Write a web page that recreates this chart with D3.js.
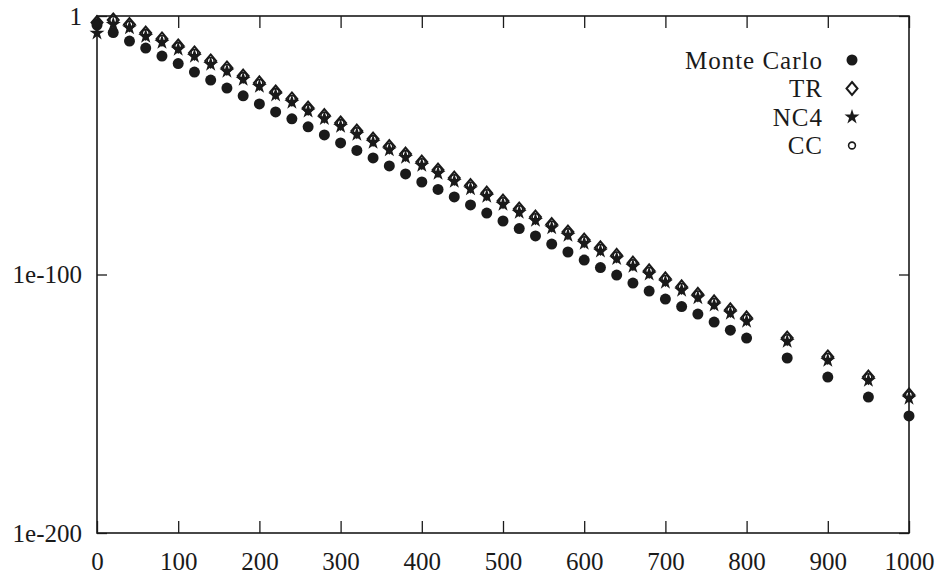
<!DOCTYPE html>
<html>
<head>
<meta charset="utf-8">
<script src="https://cdn.jsdelivr.net/npm/d3@7"></script>
<style>
  body { margin: 0; background: #fff; }
  text { font-family: "Liberation Serif", serif; fill: #1a1a1a; }
</style>
</head>
<body>
<div id="chart"></div>
<script>
// x positions of the samples
var xs = [0, 20, 40, 60, 80, 100, 120, 140, 160, 180, 200, 220, 240, 260, 280, 300,
  320, 340, 360, 380, 400, 420, 440, 460, 480, 500, 520, 540, 560, 580, 600, 620,
  640, 660, 680, 700, 720, 740, 760, 780, 800, 850, 900, 950, 1000];

var monteCarlo = [3.2e-4, 4e-7, 2e-10, 4e-13, 3.2e-16, 4e-19, 2e-22, 1.6e-25, 1.3e-28, 1.3e-31,
  1e-34, 8e-38, 1.6e-40, 1.3e-43, 1e-46, 8e-50, 1e-52, 1.3e-55, 1e-58, 8e-62,
  6e-65, 8e-68, 1e-70, 8e-74, 6e-77, 5e-80, 6e-83, 8e-86, 6e-89, 5e-92,
  4e-95, 5e-98, 6e-101, 5e-104, 4e-107, 3e-110, 4e-113, 5e-116, 4e-119, 3e-122,
  2.5e-125, 5e-133, 2e-140, 4e-148, 2e-155];

var tr = [3e-3, 3e-2, 5e-4, 2.5e-7, 1.3e-9, 2.5e-12, 5e-15, 4e-18, 8e-21, 6e-24,
  1.3e-26, 4e-30, 8e-33, 2.5e-36, 3e-39, 4e-42, 3e-45, 2.5e-48, 3e-51, 4e-54,
  3e-57, 2.5e-60, 2e-63, 2.5e-66, 3e-69, 2.5e-72, 2e-75, 1.6e-78, 2e-81, 2.5e-84,
  2e-87, 2e-90, 2.5e-93, 2.5e-96, 2.5e-99, 2e-102, 1.6e-105, 2e-108, 2.5e-111, 2e-114,
  1.6e-117, 2.5e-125, 1.3e-132, 2e-140, 2.5e-147];

var nc4 = [2.5e-7, 6e-4, 2.5e-5, 1.3e-8, 6e-11, 1.3e-13, 2.5e-16, 2e-19, 4e-22, 3e-25,
  6e-28, 2.5e-31, 4e-34, 1.6e-37, 2e-40, 2e-43, 1.6e-46, 1.3e-49, 1.6e-52, 2e-55,
  1.6e-58, 1.3e-61, 1e-64, 1.3e-67, 1.6e-70, 1.3e-73, 1e-76, 8e-80, 1e-82, 1.3e-85,
  1e-88, 1e-91, 1.3e-94, 1.3e-97, 1.3e-100, 1e-103, 8e-107, 1e-109, 1.3e-112, 1e-115,
  8e-119, 1.3e-126, 6e-134, 1e-141, 1.3e-148];

var cc = [2e-3, 3e-2, 5e-4, 2.5e-7, 1.3e-9, 2.5e-12, 5e-15, 4e-18, 8e-21, 6e-24,
  1.3e-26, 4e-30, 8e-33, 2.5e-36, 3e-39, 4e-42, 3e-45, 2.5e-48, 3e-51, 4e-54,
  3e-57, 2.5e-60, 2e-63, 2.5e-66, 3e-69, 2.5e-72, 2e-75, 1.6e-78, 2e-81, 2.5e-84,
  2e-87, 2e-90, 2.5e-93, 2.5e-96, 2.5e-99, 2e-102, 1.6e-105, 2e-108, 2.5e-111, 2e-114,
  1.6e-117, 2.5e-125, 1.3e-132, 2e-140, 2.5e-147];

var seriesNames = ["Monte Carlo", "TR", "NC4", "CC"];
var xTicks = [0, 100, 200, 300, 400, 500, 600, 700, 800, 900, 1000];
var yTicks = [1, 1e-100, 1e-200];
var yTickLabels = ["1", "1e-100", "1e-200"];

var svgWidth = 944, svgHeight = 582;
var margin = { top: 16, right: 35, bottom: 49, left: 97 };
var width = svgWidth - margin.left - margin.right;
var height = svgHeight - margin.top - margin.bottom;
var ink = "#1a1a1a";

var svg = d3.select("#chart").append("svg")
  .attr("width", svgWidth)
  .attr("height", svgHeight);

var chartGroup = svg.append("g")
  .attr("transform", `translate(${margin.left}, ${margin.top})`);

var xScale = d3.scaleLinear().domain([0, 1000]).range([0, width]);
var yScale = d3.scaleLog().domain([1e-200, 1]).range([height, 0]);

// axes: inward ticks on all four sides
var xBottom = d3.axisBottom(xScale).tickValues(xTicks).tickSizeInner(-12).tickSizeOuter(0)
  .tickPadding(19).tickFormat(d3.format("d"));
var xTop = d3.axisTop(xScale).tickValues(xTicks).tickSizeInner(-12).tickSizeOuter(0).tickFormat("");
var yLeft = d3.axisLeft(yScale).tickValues(yTicks).tickSizeInner(-10).tickSizeOuter(0).tickPadding(15)
  .tickFormat((d, i) => yTickLabels[i]);
var yRight = d3.axisRight(yScale).tickValues(yTicks).tickSizeInner(-10).tickSizeOuter(0).tickFormat("");

function styleAxis(g) {
  g.select(".domain").remove();
  g.selectAll("line").attr("stroke", ink).attr("stroke-width", 1.3);
  g.selectAll("text").style("font-family", "Liberation Serif").style("font-size", "25px").attr("fill", ink);
}

chartGroup.append("g").attr("transform", `translate(0, ${height})`).call(xBottom).call(styleAxis);
chartGroup.append("g").call(xTop).call(styleAxis);
chartGroup.append("g").call(yLeft).call(styleAxis);
chartGroup.append("g").attr("transform", `translate(${width}, 0)`).call(yRight).call(styleAxis);

chartGroup.append("rect")
  .attr("width", width).attr("height", height)
  .attr("fill", "none").attr("stroke", ink).attr("stroke-width", 1.6);

// marker shapes
var diamondPath = "M0,-6.5L5.5,0L0,6.5L-5.5,0Z";
var starPath = d3.symbol().type(d3.symbolStar).size(70)();

function drawMarker(sel, kind) {
  if (kind === 0) {
    sel.append("circle").attr("r", 5.5).attr("fill", ink);
  } else if (kind === 1) {
    sel.append("path").attr("d", diamondPath).attr("fill", "none").attr("stroke", ink).attr("stroke-width", 2);
  } else if (kind === 2) {
    sel.append("path").attr("d", starPath).attr("fill", ink);
  } else {
    sel.append("circle").attr("r", 3.4).attr("fill", "none").attr("stroke", ink).attr("stroke-width", 1.6);
  }
}

var allSeries = [monteCarlo, tr, nc4, cc];
allSeries.forEach(function(vals, k) {
  var pts = chartGroup.append("g").selectAll("g")
    .data(vals.map((v, i) => ({ x: xs[i], y: v })))
    .enter()
    .append("g")
    .attr("transform", d => `translate(${xScale(d.x)}, ${yScale(d.y)})`);
  drawMarker(pts, k);
});

// legend
var legend = svg.append("g");
seriesNames.forEach(function(name, k) {
  var y = 60 + k * 28.5;
  legend.append("text")
    .attr("x", 823).attr("y", y)
    .attr("text-anchor", "end")
    .attr("dominant-baseline", "central")
    .style("font-size", "25px")
    .style("letter-spacing", "1px")
    .text(name);
  var m = legend.append("g").attr("transform", `translate(852, ${y})`);
  drawMarker(m, k);
});
</script>
</body>
</html>
